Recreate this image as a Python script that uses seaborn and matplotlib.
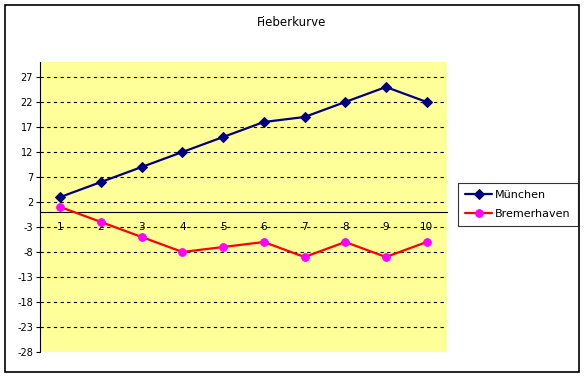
import pandas as pd
import numpy as np
import matplotlib
matplotlib.use("Agg")
import matplotlib.pyplot as plt
import seaborn as sns
from matplotlib.patches import Rectangle

# Fieberkurve data
tage = [1, 2, 3, 4, 5, 6, 7, 8, 9, 10]
muenchen = [3, 6, 9, 12, 15, 18, 19, 22, 25, 22]
bremerhaven = [1, -2, -5, -8, -7, -6, -9, -6, -9, -6]
y_ticks = [-28, -23, -18, -13, -8, -3, 2, 7, 12, 17, 22, 27]

sns.set_style("white")
plt.rcParams['font.family'] = ['DejaVu Sans']
plt.rcParams['text.color'] = 'black'
plt.rcParams['xtick.color'] = 'black'
plt.rcParams['ytick.color'] = 'black'

fig = plt.figure(figsize=(5.84, 3.77), dpi=100)
ax = fig.add_axes([40/584, 1 - 352/377, 407/584, 290/377])
ax.set_facecolor('#FFFF99')

# dashed gridlines (not at the bottom edge)
for t in y_ticks[1:]:
    ax.axhline(t, color='black', linestyle=(0, (3, 3)), linewidth=0.8, zorder=1)

sns.lineplot(x=tage, y=muenchen, ax=ax, color='#000080', marker='D',
             markersize=7, markeredgecolor='#000080', markerfacecolor='#000080',
             linewidth=1.6, label='München', zorder=3)
sns.lineplot(x=tage, y=bremerhaven, ax=ax, color='#FF0000', marker='o',
             markersize=8, markeredgecolor='#FF00FF', markerfacecolor='#FF00FF',
             linewidth=1.6, label='Bremerhaven', zorder=3)

ax.set_xlim(0.5, 10.5)
ax.set_ylim(-28, 30)
ax.set_yticks(y_ticks)
ax.set_yticklabels([str(t) for t in y_ticks])
ax.set_xticks(tage)
ax.set_xticklabels([str(t) for t in tage])
ax.set_xticks(np.arange(0.5, 11, 1), minor=True)
ax.tick_params(axis='x', which='major', length=0, pad=7, labelsize=7.5)
ax.tick_params(axis='x', which='minor', length=3, direction='inout', width=0.8)
ax.tick_params(axis='y', length=3, direction='out', width=0.8, pad=2, left=True,
               labelsize=7)
ax.set_xlabel('')
ax.set_ylabel('')

for s in ['top', 'right']:
    ax.spines[s].set_visible(False)
ax.spines['bottom'].set_position(('data', 0))
ax.spines['bottom'].set_color('black')
ax.spines['bottom'].set_linewidth(0.8)
ax.spines['left'].set_color('black')
ax.spines['left'].set_linewidth(0.8)

ax.legend_.remove()
handles, labels = ax.get_legend_handles_labels()
for h in handles:
    h.set_markersize(5.5)
leg = fig.legend(handles, labels, loc='upper left',
                 bbox_to_anchor=(458/584, 1 - 183/377), fontsize=8,
                 frameon=True, fancybox=False, edgecolor='black',
                 handlelength=2.4, borderpad=0.65, labelspacing=0.8,
                 handletextpad=0.3, borderaxespad=0)
leg.get_frame().set_linewidth(0.8)

fig.text(0.5, 1 - 22/377, 'Fieberkurve', ha='center', va='center', fontsize=8.5)

fig.patches.append(Rectangle((5/584, 1 - 372/377), 574/584, 367/377,
                             transform=fig.transFigure, fill=False,
                             edgecolor='black', linewidth=1.2))

plt.savefig("out.png", dpi=100)
